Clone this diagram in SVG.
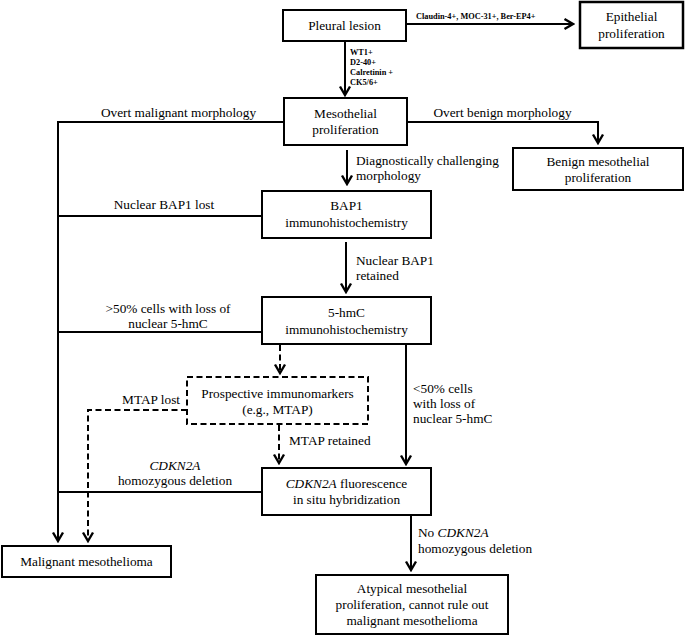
<svg xmlns="http://www.w3.org/2000/svg" width="685" height="636" viewBox="0 0 685 636">
<style>
text{font-family:"Liberation Serif","Times New Roman",serif;font-size:13.3px;fill:#000}
.c{text-anchor:middle}
.s{font-size:8.3px;font-weight:bold}
.i{font-style:italic}
.box{fill:#fff;stroke:#000;stroke-width:2}
.dbox{fill:#fff;stroke:#000;stroke-width:2;stroke-dasharray:6,3.5}
.ln{fill:none;stroke:#000;stroke-width:2}
.dl{fill:none;stroke:#000;stroke-width:2;stroke-dasharray:6,3.5}
</style>
<defs>
<marker id="ah" viewBox="-11 -7 13 14" markerWidth="13" markerHeight="14" refX="0" refY="0" orient="auto" markerUnits="userSpaceOnUse">
<path d="M-8.5,-5 L0,0 L-8.5,5" fill="none" stroke="#000" stroke-width="2.4"/>
</marker>
</defs>
<rect width="685" height="636" fill="#fff"/>
<g id="connectors">
<path class="ln" d="M406,24 H573" marker-end="url(#ah)"/>
<path class="ln" d="M345,42 V95" marker-end="url(#ah)"/>
<path class="ln" d="M407,122 H598 V143" marker-end="url(#ah)"/>
<path class="ln" d="M284,122 H58 V541" marker-end="url(#ah)"/>
<path class="ln" d="M347,150 V184" marker-end="url(#ah)"/>
<path class="ln" d="M262,216 H58"/>
<path class="ln" d="M346,242 V292" marker-end="url(#ah)"/>
<path class="ln" d="M262,332 H58"/>
<path class="dl" d="M280,345 V373" marker-end="url(#ah)"/>
<path class="ln" d="M406,345 V464" marker-end="url(#ah)"/>
<path class="dl" d="M187,410 H88 V541" marker-end="url(#ah)"/>
<path class="dl" d="M279,425 V463" marker-end="url(#ah)"/>
<path class="ln" d="M262,492 H58"/>
<path class="ln" d="M411,516 V570" marker-end="url(#ah)"/>
<text class="s" x="416" y="19">Claudin-4+, MOC-31+, Ber-EP4+</text>
<text class="s" x="350" y="55">WT1+</text>
<text class="s" x="350" y="65">D2-40+</text>
<text class="s" x="350" y="75">Calretinin +</text>
<text class="s" x="350" y="85">CK5/6+</text>
<text class="c" x="178.5" y="117">Overt malignant morphology</text>
<text class="c" x="502.5" y="117">Overt benign morphology</text>
<text x="356" y="165">Diagnostically challenging</text>
<text x="356" y="180">morphology</text>
<text class="c" x="164" y="209">Nuclear BAP1 lost</text>
<text x="356" y="265">Nuclear BAP1</text>
<text x="356" y="280">retained</text>
<text class="c" x="168" y="313">&gt;50% cells with loss of</text>
<text class="c" x="168" y="328">nuclear 5-hmC</text>
<text x="180" y="404" text-anchor="end">MTAP lost</text>
<text x="289" y="445">MTAP retained</text>
<text x="413" y="393">&lt;50% cells</text>
<text x="413" y="408">with loss of</text>
<text x="413" y="423">nuclear 5-hmC</text>
<text class="c i" x="175" y="470">CDKN2A</text>
<text class="c" x="175" y="485">homozygous deletion</text>
<text x="418" y="537">No <tspan class="i">CDKN2A</tspan></text>
<text x="418" y="553">homozygous deletion</text>
</g>
<g id="pleural">
<rect class="box" x="283" y="10" width="123" height="31"/>
<text class="c" x="344.5" y="30">Pleural lesion</text>
</g>
<g id="epithelial">
<rect class="box" x="580" y="2" width="103" height="46" style="stroke-width:2.5"/>
<text class="c" x="631.5" y="21">Epithelial</text>
<text class="c" x="631.5" y="38">proliferation</text>
</g>
<g id="mesothelial">
<rect class="box" x="284" y="98" width="123" height="47"/>
<text class="c" x="345.5" y="118">Mesothelial</text>
<text class="c" x="345.5" y="134">proliferation</text>
</g>
<g id="benign">
<rect class="box" x="513" y="148" width="170" height="42"/>
<text class="c" x="598" y="166">Benign mesothelial</text>
<text class="c" x="598" y="182">proliferation</text>
</g>
<g id="bap1">
<rect class="box" x="262" y="191" width="169" height="47"/>
<text class="c" x="346.5" y="210">BAP1</text>
<text class="c" x="346.5" y="227">immunohistochemistry</text>
</g>
<g id="hmc">
<rect class="box" x="262" y="297" width="169" height="47"/>
<text class="c" x="346.5" y="317">5-hmC</text>
<text class="c" x="346.5" y="334">immunohistochemistry</text>
</g>
<g id="prospective">
<rect class="dbox" x="187" y="377" width="181" height="47"/>
<text class="c" x="277.5" y="398">Prospective immunomarkers</text>
<text class="c" x="277.5" y="414">(e.g., MTAP)</text>
</g>
<g id="cdkn2a">
<rect class="box" x="262" y="468" width="169" height="47"/>
<text class="c" x="346.5" y="488"><tspan class="i">CDKN2A</tspan> fluorescence</text>
<text class="c" x="346.5" y="504">in situ hybridization</text>
</g>
<g id="malignant">
<rect class="box" x="2" y="546" width="169" height="31"/>
<text class="c" x="86.5" y="566">Malignant mesothelioma</text>
</g>
<g id="atypical">
<rect class="box" x="316" y="575" width="192" height="59"/>
<text class="c" x="412" y="593">Atypical mesothelial</text>
<text class="c" x="412" y="609">proliferation, cannot rule out</text>
<text class="c" x="412" y="625">malignant mesothelioma</text>
</g>
</svg>
